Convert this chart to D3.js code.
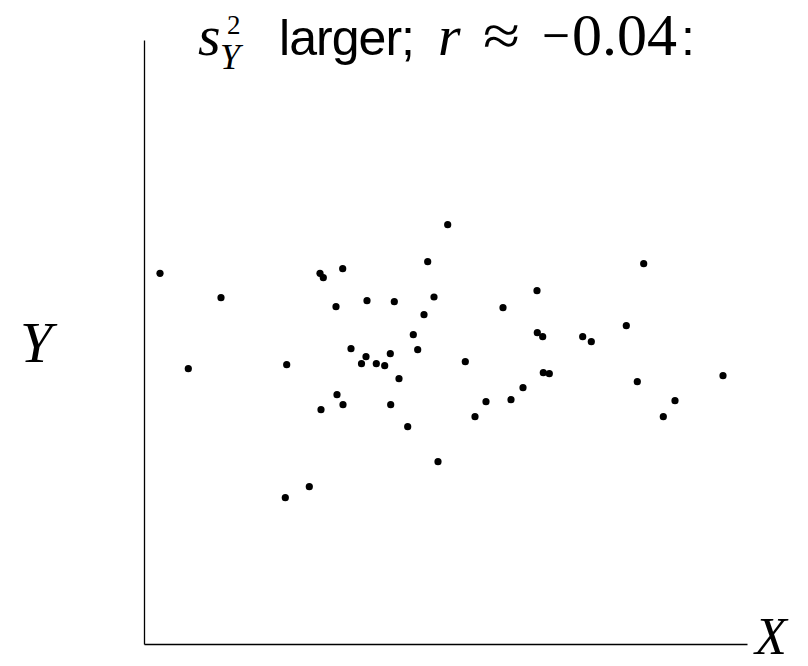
<!DOCTYPE html>
<html lang="en">
<head>
    <meta charset="UTF-8">
    <script src="https://d3js.org/d3.v7.min.js"></script>
    <title>Scatter</title>
    <style>
        body{
            margin: 0;
            background-color: #ffffff;
        }
        .math{
            font-family: 'Liberation Serif', serif;
        }
        .sans{
            font-family: 'Liberation Sans', sans-serif;
        }
        .axis path{
            stroke: #000000;
            stroke-width: 1.3;
        }
    </style>
</head>
<body>
    <svg id="canvas" width="808" height="666"></svg>
<script>
// values (arbitrary units, 0..603 horizontally, 0..604 vertically)
let xValues = [16, 77, 44.3, 142.7, 141.3, 165.3, 176, 179.3, 198.7, 192,
               223, 207, 222, 217.5, 232.3, 240.7, 246.3, 255, 193, 199,
               177, 246.7, 263.7, 250.3, 290, 280, 269.3, 273.7, 283.7, 303.7,
               294, 321.3, 331, 342, 367, 379, 359, 393, 393.3, 398.7,
               399.3, 405.3, 438.7, 447.3, 482.3, 499.7, 493.3, 519.3, 531, 579]
let yValues = [370.7, 346.3, 275.3, 279.3, 146.3, 157.3, 370.7, 366.3, 375.3, 337.3,
               343.3, 295.3, 287.3, 280.3, 280.3, 278.3, 290.3, 265.3, 249.3, 239.3,
               234.3, 239.3, 217.3, 342.3, 347, 329.3, 309.3, 294.3, 382.3, 419.3,
               182.3, 282.3, 227.3, 242.3, 244.3, 256.3, 336.3, 353.3, 311.3, 307.3,
               271.3, 270.3, 307.3, 302.3, 318.3, 380.3, 262.3, 227.3, 243.3, 268.3]

let points = xValues.map((x, i) => ({x: x, y: yValues[i]}))

let canvas = d3.select('#canvas')

let xScale = d3.scaleLinear().domain([0, 603]).range([144, 747])
let yScale = d3.scaleLinear().domain([0, 604]).range([644, 40])

// bare axes: only the domain lines, no ticks
canvas.append('g')
    .attr('class', 'axis')
    .attr('transform', 'translate(0,' + yScale(0) + ')')
    .call(d3.axisBottom(xScale).tickValues([]).tickSizeOuter(0))

canvas.append('g')
    .attr('class', 'axis')
    .attr('transform', 'translate(' + xScale(0) + ',0)')
    .call(d3.axisLeft(yScale).tickValues([]).tickSizeOuter(0))

canvas.selectAll('circle')
    .data(points)
    .enter()
    .append('circle')
    .attr('cx', (d) => xScale(d.x))
    .attr('cy', (d) => yScale(d.y))
    .attr('r', 3.6)
    .attr('fill', '#000000')

// axis labels
canvas.append('text')
    .attr('class', 'math')
    .attr('x', 20)
    .attr('y', 362)
    .attr('font-size', 58)
    .attr('font-style', 'italic')
    .text('Y')

canvas.append('text')
    .attr('class', 'math')
    .attr('x', 755)
    .attr('y', 654)
    .attr('font-size', 52)
    .attr('font-style', 'italic')
    .text('X')

// title, built piece by piece to mimic the LaTeX look
let title = canvas.append('g')
let base = 55

title.append('text').attr('class', 'math').attr('x', 198).attr('y', base)
    .attr('font-size', 58).attr('font-style', 'italic').text('s')
title.append('text').attr('class', 'math').attr('x', 227).attr('y', 34)
    .attr('font-size', 27).text('2')
title.append('text').attr('class', 'math').attr('x', 220).attr('y', 69)
    .attr('font-size', 36).attr('font-style', 'italic').text('Y')
title.append('text').attr('class', 'sans').attr('x', 279).attr('y', base)
    .attr('font-size', 50).attr('textLength', 136).text('larger;')
title.append('text').attr('class', 'math').attr('x', 438).attr('y', base)
    .attr('font-size', 58).attr('font-style', 'italic').text('r')
title.append('text').attr('class', 'math').attr('x', 483).attr('y', base)
    .attr('font-size', 58).attr('textLength', 37)
    .attr('lengthAdjust', 'spacingAndGlyphs').text('\u2248')
title.append('text').attr('class', 'math').attr('x', 542).attr('y', base)
    .attr('font-size', 58).attr('textLength', 28)
    .attr('lengthAdjust', 'spacingAndGlyphs').text('\u2212')
title.append('text').attr('class', 'math').attr('x', 572).attr('y', base)
    .attr('font-size', 60).text('0.04')
title.append('text').attr('class', 'sans').attr('x', 681).attr('y', base)
    .attr('font-size', 50).text(':')
</script>
</body>
</html>
